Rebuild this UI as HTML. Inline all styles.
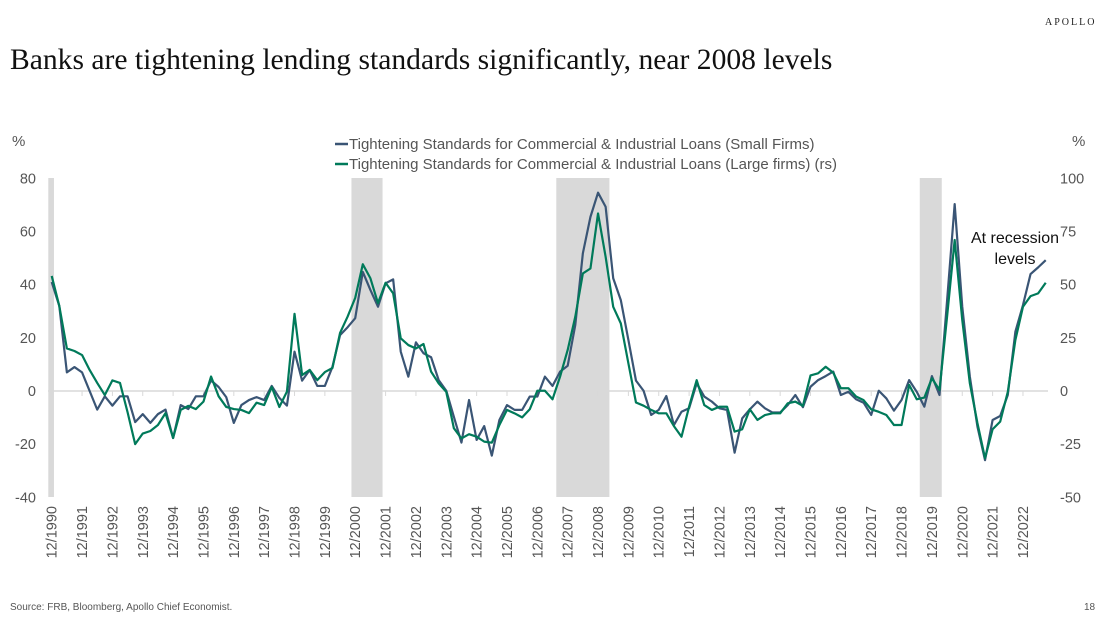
<!DOCTYPE html>
<html><head><meta charset="utf-8"><style>
body{margin:0;background:#fff;width:1101px;height:616px;overflow:hidden;font-family:"Liberation Sans",sans-serif;}
</style></head><body>
<svg id="chart" width="1101" height="616" xmlns="http://www.w3.org/2000/svg">
<text x="1045" y="25" font-family="Liberation Serif,serif" font-size="10" letter-spacing="2" fill="#222">APOLLO</text>
<text x="10" y="69" font-family="Liberation Serif,serif" font-size="29.6" fill="#111">Banks are tightening lending standards significantly, near 2008 levels</text>
<text x="12" y="146" font-size="15" fill="#555">%</text>
<text x="1072" y="146" font-size="15" fill="#555">%</text>
<g>
<line x1="335" y1="144" x2="348" y2="144" stroke="#3A5575" stroke-width="2.5"/>
<text x="349" y="149" font-size="15" fill="#555">Tightening Standards for Commercial &amp; Industrial Loans (Small Firms)</text>
<line x1="335" y1="164" x2="348" y2="164" stroke="#007A5A" stroke-width="2.5"/>
<text x="349" y="169" font-size="15" fill="#555">Tightening Standards for Commercial &amp; Industrial Loans (Large firms) (rs)</text>
</g>
<g id="plot"></g>
<text x="1015" y="243" font-size="16" fill="#111" text-anchor="middle">At recession</text>
<text x="1015" y="264" font-size="16" fill="#111" text-anchor="middle">levels</text>
<text x="10" y="610" font-size="10" fill="#555">Source: FRB, Bloomberg, Apollo Chief Economist.</text>
<text x="1084" y="610" font-size="10" fill="#555">18</text>
</svg>
<script>
const smallFirms=[41,32,7,9,7,0,-7,-2,-5.5,-2,-2,-11.7,-8.7,-12,-8.7,-7,-17.7,-5.3,-6.8,-2,-2,4,1.5,-2.3,-12,-5.3,-3.4,-2.3,-3.4,1.9,-2.6,-5.5,14.8,3.9,7.9,1.9,1.9,9.1,21,24,27.4,44.8,38,31.7,
40.5,42,14.8,5.4,18.3,14.2,12.7,4.1,0.1,-9.7,-19.4,-3.4,-18.4,-13.2,-24.3,-10.9,-5.3,-7.1,-7.1,-2.1,-2.1,5.4,1.9,7.3,9.5,24.8,51.8,65.5,74.6,69.3,42.4,34.2,19.2,3.9,0.1,-9,-7.1,-1.9,-12.8,-7.8,-6.5,2.9,-2.1,
-4,-6.5,-7.1,-23.2,-10.3,-6.9,-4,-6.5,-8.1,-8.1,-5.3,-1.5,-6.1,1.6,4.1,5.6,7.3,-1.5,-0.3,-3.1,-4.4,-9,0.1,-2.8,-7.4,-3.4,4.1,-0.3,-5.9,5.6,-1.5,34,70.3,31.7,5.4,-13.4,-26,-10.9,-9.4,-1.5,22.3,32.3,44,46.5,49.2];
const largeFirmsRS=[54.1,40,20,18.8,16.9,9.9,3.8,-1.9,5,3.8,-10,-25,-20,-18.8,-16,-10.4,-22.1,-8.9,-7,-8.5,-5,6.8,-2.5,-7.5,-8.5,-8.9,-10.4,-5.5,-6.6,1.9,-7.5,-0.3,36.3,7.5,9.9,5.1,8.9,10.8,27.3,35,43.8,59.6,
53,41.3,50.9,45.9,24.8,21.6,20,22.1,9.1,3.6,-0.4,-17.5,-22.3,-20.3,-21.5,-23.8,-24.3,-16,-8.9,-10.5,-12.4,-8.6,0.1,0.1,-3.9,6.8,19.3,34.9,55.3,57.6,83.5,63.1,39.6,31.8,13,-5.4,-6.9,-8.9,-10.5,-10.5,-16.5,-21.5,-7.4,5.1,-6.6,
-8.9,-7.4,-7.4,-19.1,-18,-8.6,-13.6,-11.3,-10.5,-10.5,-5.8,-5,-7,7.3,8.3,11.4,8.6,1.3,1.3,-2.6,-4.3,-8.6,-9.8,-11.3,-16,-16,2.9,-3.9,-3.1,6,0.5,35,71,33.4,3.6,-15.1,-31.6,-18,-14.4,-0.4,24,39.6,44.6,45.9,50.9];
const recessions=[[-0.45,0.3],[39.5,43.6],[66.5,73.5],[114.4,117.3]];
const yearLabels=["12/1990","12/1991","12/1992","12/1993","12/1994","12/1995","12/1996","12/1997","12/1998","12/1999","12/2000","12/2001","12/2002","12/2003","12/2004","12/2005","12/2006","12/2007","12/2008","12/2009","12/2010","12/2011","12/2012","12/2013","12/2014","12/2015","12/2016","12/2017","12/2018","12/2019","12/2020","12/2021","12/2022"];
const leftTicks=[80,60,40,20,0,-20,-40];
const rightTicks=[100,75,50,25,0,-25,-50];
const NS="http://www.w3.org/2000/svg";
const g=document.getElementById('plot');
const X=i=>51.7+i*7.588;
const YL=v=>391-v*(319/120);
const YR=v=>391-v*(319/150);
function mk(t,a){const e=document.createElementNS(NS,t);for(const k in a)e.setAttribute(k,a[k]);g.appendChild(e);return e;}
recessions.forEach(r=>{const e=mk('rect',{x:X(r[0]),y:178,width:X(r[1])-X(r[0]),height:319,fill:'#d9d9d9'});

});
let z=mk('line',{x1:48,y1:YL(0),x2:1048,y2:YL(0),stroke:'#d9d9d9','stroke-width':1.5});


yearLabels.forEach((s,k)=>{const x=X(k*4);
const tk=mk('line',{x1:x,y1:YL(0),x2:x,y2:YL(0)+5,stroke:'#d9d9d9'});


const t=mk('text',{x:0,y:0,'font-size':14.5,fill:'#555','text-anchor':'end',transform:`translate(${x+5},506) rotate(-90)`});
t.textContent=s;

});
leftTicks.forEach(v=>{const t=mk('text',{x:36,y:YL(v)+5,'font-size':14.5,fill:'#555','text-anchor':'end'});t.textContent=v;

});
rightTicks.forEach(v=>{const t=mk('text',{x:1060,y:YR(v)+5,'font-size':14.5,fill:'#555'});t.textContent=v;

});
const p1=mk('polyline',{points:smallFirms.map((v,i)=>X(i)+','+YL(v)).join(' '),fill:'none',stroke:'#3A5575','stroke-width':2.2,'stroke-linejoin':'round'});


const p2=mk('polyline',{points:largeFirmsRS.map((v,i)=>X(i)+','+YR(v)).join(' '),fill:'none',stroke:'#007A5A','stroke-width':2.2,'stroke-linejoin':'round'});


</script>
</body></html>
